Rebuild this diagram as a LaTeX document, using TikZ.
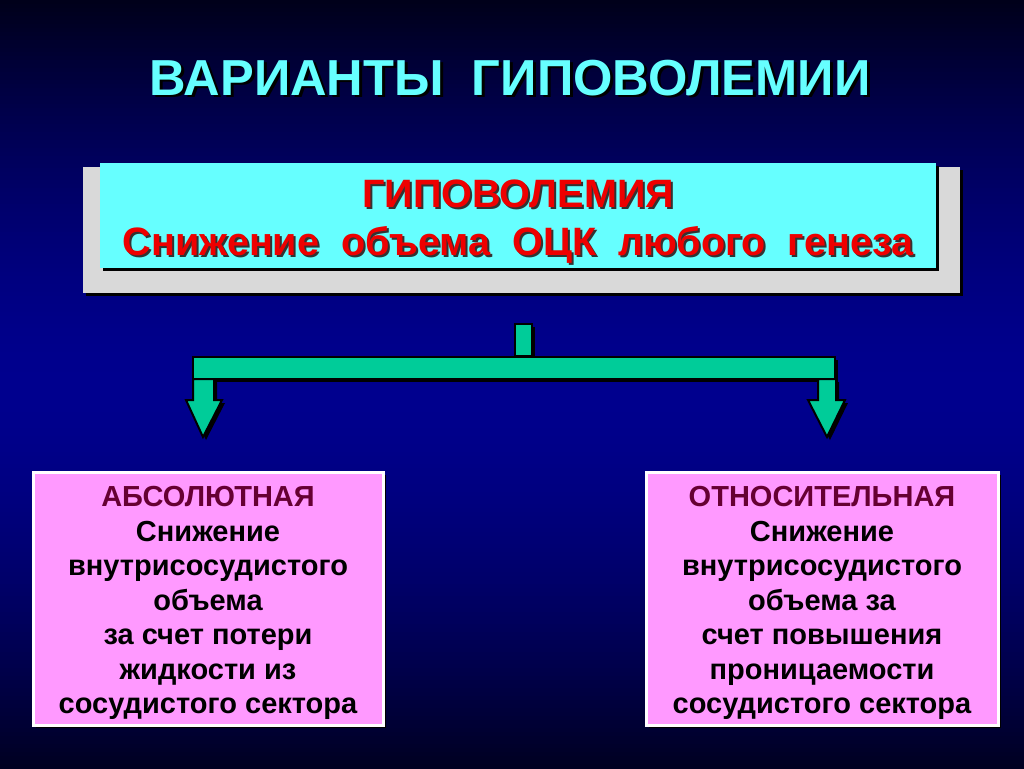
\documentclass[tikz,border=0pt]{standalone}
\usepackage{fontspec}
\setmainfont{Liberation Sans}
\definecolor{bgtop}{HTML}{00001A}
\definecolor{bgmid}{HTML}{00008E}
\definecolor{bgbot}{HTML}{000020}
\definecolor{cyanT}{HTML}{66FFFF}
\definecolor{redT}{HTML}{EE0000}
\definecolor{grayB}{HTML}{D9D9D9}
\definecolor{grn}{HTML}{00CC99}
\definecolor{pinkB}{HTML}{FF99FF}
\definecolor{maroon}{HTML}{660033}
\begin{document}
\begin{tikzpicture}[x=0.5pt,y=-0.5pt,
  shadowed/.style={preaction={fill=black, transform canvas={xshift=1.5pt, yshift=-1.5pt}}},
  gshape/.style={shadowed, fill=grn, draw=black, line width=1pt},
  titletxt/.style={font=\bfseries\fontsize{25.3}{30}\selectfont, text=cyanT},
  redtxt/.style={font=\bfseries\fontsize{19.8}{24}\selectfont, text=redT, align=center},
  boxtxt/.style={font=\bfseries\fontsize{14.5}{17.25}\selectfont, text=black, align=center},
  pinkbox/.style={shadowed, fill=pinkB, draw=white, line width=1.5pt, minimum height=126.5pt, inner sep=0pt}
]
\useasboundingbox (0,0) rectangle (1024,768);
% background gradient: dark at top, bright blue in the middle, dark at bottom
\foreach \i in {0,...,191}{
  \pgfmathsetmacro{\yy}{4*\i}
  \pgfmathsetmacro{\t}{\yy<384 ? 100*(\yy/384) : 100*((768-\yy)/384)}
  \pgfmathsetmacro{\tt}{100-100*(1-\t/100)^1.6}
  \ifdim\yy pt<384pt
    \fill[bgmid!\tt!bgtop] (0,\yy) rectangle (1024,\yy+4.6);
  \else
    \fill[bgmid!\tt!bgbot] (0,\yy) rectangle (1024,\yy+4.6);
  \fi
}

% title
\node[titletxt, text=black] (titleS) at (513,80) {ВАРИАНТЫ\ \ ГИПОВОЛЕМИИ};
\node[titletxt] (title) at (510,78) {ВАРИАНТЫ\ \ ГИПОВОЛЕМИИ};

% top boxes
\node[shadowed, fill=grayB, minimum width=438.5pt, minimum height=63pt, inner sep=0pt] (outer) at (521.5,230) {};
\node[shadowed, fill=cyanT, minimum width=418pt, minimum height=52.5pt, inner sep=0pt] (inner) at (518,215.5) {};
\node[redtxt, text=black!80] (hypoS) at (520,224) {ГИПОВОЛЕМИЯ\\Снижение\ \ объема\ \ ОЦК\ \ любого\ \ генеза};
\node[redtxt] (hypo) at (518,222) {ГИПОВОЛЕМИЯ\\Снижение\ \ объема\ \ ОЦК\ \ любого\ \ генеза};

% connector
\draw[gshape] (515,324) rectangle (532,356);
\draw[gshape] (193,357) rectangle (835,379);
\draw[gshape] (193,379) -- (214,379) -- (214,400) -- (222,400) -- (203,437) -- (186,400) -- (193,400) -- cycle;
\draw[gshape] (818,379) -- (836,379) -- (836,400) -- (845,400) -- (827,437) -- (808,400) -- (818,400) -- cycle;

% bottom boxes
\node[pinkbox, minimum width=175pt] (abs) at (208,598.5) {};
\node[pinkbox, minimum width=176pt] (rel) at (822,598.5) {};
\node[boxtxt] (absT) at (208,603) {\textcolor{maroon}{АБСОЛЮТНАЯ}\\Снижение\\внутрисосудистого\\объема\\за счет потери\\жидкости из\\сосудистого сектора};
\node[boxtxt] (relT) at (822,603) {\textcolor{maroon}{ОТНОСИТЕЛЬНАЯ}\\Снижение\\внутрисосудистого\\объема за\\счет повышения\\проницаемости\\сосудистого сектора};
\end{tikzpicture}
\end{document}
